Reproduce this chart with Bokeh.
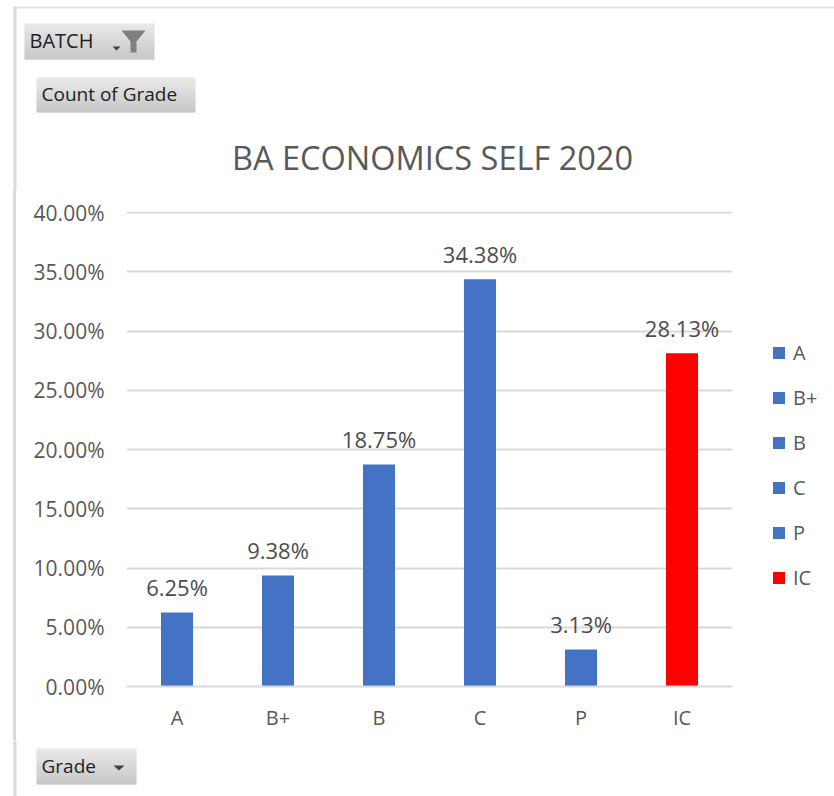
from bokeh.plotting import figure
from bokeh.embed import file_html
from bokeh.layouts import column, row
from bokeh.resources import INLINE
from bokeh.models import (ColumnDataSource, FixedTicker, Legend, LegendItem, Range1d, CustomJSTickFormatter)
from bokeh.core.properties import value

grades = ["A", "B+", "B", "C", "P", "IC"]
shares = [6.25, 9.38, 18.75, 34.38, 3.13, 28.13]
colors = ["#4472c4", "#4472c4", "#4472c4", "#4472c4", "#4472c4", "#ff0000"]
y_ticks = [0, 5, 10, 15, 20, 25, 30, 35, 40]
title_text = "BA ECONOMICS SELF 2020"
FONT = "Open Sans"
W = 834

p = figure(x_range=grades, y_range=Range1d(0, 40.1), width=W, height=550,
           frame_width=606, frame_height=475,
           min_border_left=126, min_border_right=102, min_border_top=21, min_border_bottom=54,
           output_backend="svg", toolbar_location=None, outline_line_color=None,
           border_fill_color=None, background_fill_color=None,
           styles={"background": "linear-gradient(#d9d9d9,#d9d9d9) 13px 0 / 3px 100% no-repeat"})

renderers = []
for g, s, c in zip(grades, shares, colors):
    src = ColumnDataSource(dict(x=[g], top=[s], label=[f"{s:.2f}%"]))
    r = p.vbar(x="x", top="top", width=0.317, source=src, color=c, line_color=None)
    renderers.append((g, r))
    p.text(x="x", y="top", text="label", source=src, text_align="center", text_baseline="middle",
           y_offset=-25.5, text_font=value(FONT), text_font_size="22px", text_color="#4d4d4d")

p.xgrid.visible = False
p.ygrid.grid_line_color = "#d9d9d9"
p.ygrid.grid_line_width = 2
p.ygrid.ticker = FixedTicker(ticks=y_ticks)

p.yaxis.ticker = FixedTicker(ticks=y_ticks)
p.yaxis.formatter = CustomJSTickFormatter(code="return tick.toFixed(2) + '%'")
p.yaxis.axis_line_color = None
p.yaxis.major_tick_line_color = None
p.yaxis.minor_tick_line_color = None
p.yaxis.major_label_standoff = 16
p.yaxis.major_label_text_font = FONT
p.yaxis.major_label_text_font_size = "21px"
p.yaxis.major_label_text_color = "#595959"

p.xaxis.axis_line_color = "#d9d9d9"
p.xaxis.axis_line_width = 2
p.xaxis.major_tick_line_color = None
p.xaxis.minor_tick_line_color = None
p.xaxis.major_label_standoff = 11
p.xaxis.major_label_text_font = FONT
p.xaxis.major_label_text_font_size = "20px"
p.xaxis.major_label_text_color = "#595959"

legend = Legend(items=[LegendItem(label=g, renderers=[r]) for g, r in renderers],
                location=(39, 95), orientation="vertical", border_line_color=None, background_fill_alpha=0,
                glyph_width=15, glyph_height=15, label_height=13, spacing=18, padding=0, margin=0,
                label_standoff=7, label_text_font=FONT, label_text_font_size="20px",
                label_text_color="#595959")
p.add_layout(legend, "right")


def panel(height):
    f = figure(width=W, height=height, frame_width=W, frame_height=height,
               x_range=Range1d(0, W), y_range=Range1d(height, 0),
               min_border=0, output_backend="svg", toolbar_location=None, outline_line_color=None,
               x_axis_location=None, y_axis_location=None)
    f.grid.visible = False
    return f


def button(f, x0, y0, x1, y1, text, tx, size):
    steps = y1 - y0
    for i in range(steps):
        v = int(226 - i / max(steps - 1, 1) * 44)
        f.quad(left=x0, right=x1, top=y0 + i, bottom=y0 + i + 1, color=f"#{v:02x}{v:02x}{v:02x}", line_color=None)
    f.text(x=[tx], y=[(y0 + y1) / 2 - 1], text=[text], text_baseline="middle", text_font=value(FONT),
           text_font_size=size, text_color="#222222")


head = panel(190)
head.quad(left=13, right=16, top=6, bottom=190, color="#d9d9d9", line_color=None)
head.quad(left=13, right=W, top=6, bottom=8, color="#e0e0e0", line_color=None)
button(head, 24, 23, 154, 59, "BATCH", 29, "20px")
button(head, 36, 77, 195, 112, "Count of Grade", 41, "19px")
head.patch([121, 145, 136, 136, 130, 130], [30, 30, 41, 52, 52, 41], color="#7f7f7f", line_color=None)
head.patch([112, 120, 116], [46, 46, 50], color="#404040", line_color=None)
head.text(x=[432], y=[157], text=[title_text], text_align="center", text_baseline="middle",
          text_font=value(FONT), text_font_size="32.5px", text_color="#595959")

foot = panel(56)
foot.quad(left=13, right=16, top=0, bottom=56, color="#d9d9d9", line_color=None)
button(foot, 36, 8, 136, 44, "Grade", 41, "19px")
foot.patch([113, 124, 118.5], [25, 25, 30], color="#404040", line_color=None)

page = column(row(head), p, row(foot), spacing=0)
open("out.html", "w").write(file_html(page, INLINE))
